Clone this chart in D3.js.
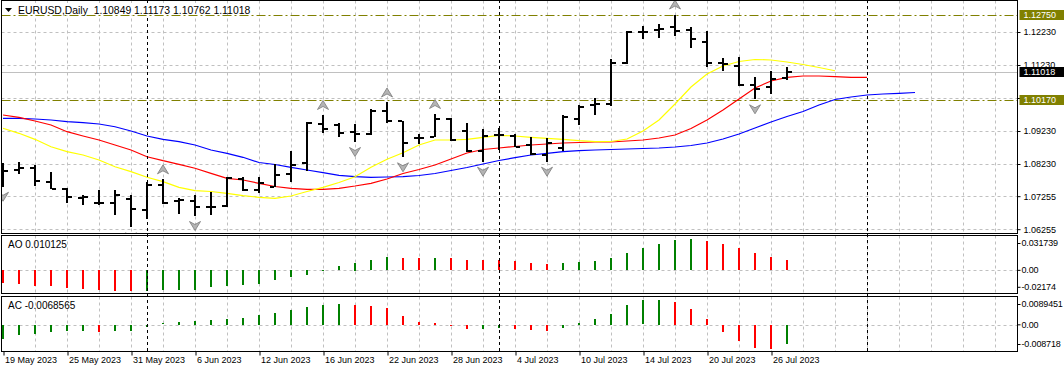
<!DOCTYPE html>
<html><head><meta charset="utf-8">
<script src="https://cdn.jsdelivr.net/npm/d3@7"></script>
<style>
html,body{margin:0;padding:0;background:#fff;}
svg{display:block;}
text{font-family:"Liberation Sans",Arial,sans-serif;}
</style></head><body>
<svg id="c" width="1064" height="372"></svg>
<script>
// ---------------- DATA ----------------
const symbol = "EURUSD,Daily";
const dates = ["2023-05-19","2023-05-22","2023-05-23","2023-05-24","2023-05-25","2023-05-26","2023-05-29","2023-05-30","2023-05-31","2023-06-01","2023-06-02","2023-06-05","2023-06-06","2023-06-07","2023-06-08","2023-06-09","2023-06-12","2023-06-13","2023-06-14","2023-06-15","2023-06-16","2023-06-19","2023-06-20","2023-06-21","2023-06-22","2023-06-23","2023-06-26","2023-06-27","2023-06-28","2023-06-29","2023-06-30","2023-07-03","2023-07-04","2023-07-05","2023-07-06","2023-07-07","2023-07-10","2023-07-11","2023-07-12","2023-07-13","2023-07-14","2023-07-17","2023-07-18","2023-07-19","2023-07-20","2023-07-21","2023-07-24","2023-07-25","2023-07-26","2023-07-27"];
const open  = [1.08109,1.08048,1.08100,1.07685,1.07482,1.07209,1.07039,1.07057,1.07179,1.06836,1.07585,1.07118,1.07100,1.06918,1.06957,1.07766,1.07442,1.07542,1.07927,1.08251,1.09442,1.09412,1.09185,1.09154,1.09836,1.09524,1.09003,1.09057,1.09594,1.09230,1.08633,1.09094,1.09079,1.08791,1.08503,1.08715,1.09600,1.10003,1.10048,1.11282,1.12230,1.12300,1.12391,1.12291,1.11936,1.11300,1.11200,1.10624,1.10554,1.10849];
const high  = [1.08269,1.08291,1.08191,1.07988,1.07503,1.07300,1.07442,1.07442,1.07300,1.07685,1.07766,1.07200,1.07282,1.07382,1.07827,1.07827,1.07845,1.08230,1.08633,1.09503,1.09715,1.09463,1.09442,1.09888,1.10094,1.09542,1.09139,1.09745,1.09615,1.09472,1.09282,1.09312,1.09139,1.09057,1.09009,1.09715,1.10003,1.10221,1.11403,1.12269,1.12427,1.12472,1.12760,1.12391,1.12275,1.11433,1.11463,1.10857,1.11057,1.11173];
const low   = [1.07540,1.07927,1.07563,1.07463,1.07039,1.06979,1.06997,1.06676,1.06312,1.06572,1.07018,1.06715,1.06654,1.06680,1.06936,1.07421,1.07342,1.07524,1.07685,1.08009,1.09160,1.09039,1.08897,1.09109,1.09463,1.08433,1.08836,1.09039,1.08936,1.08603,1.08300,1.08654,1.08745,1.08488,1.08300,1.08633,1.09397,1.09730,1.09988,1.11260,1.12018,1.12039,1.12109,1.11736,1.11160,1.11057,1.10594,1.10191,1.10351,1.10762];
const close = [1.08027,1.08094,1.07715,1.07472,1.07239,1.07215,1.07045,1.07291,1.06876,1.07585,1.07039,1.07125,1.06918,1.06936,1.07806,1.07442,1.07663,1.07888,1.08191,1.09482,1.09291,1.09160,1.09154,1.09836,1.09542,1.08857,1.09018,1.09585,1.08957,1.08615,1.09079,1.09100,1.08754,1.08518,1.08876,1.09645,1.09966,1.10048,1.11300,1.12239,1.12239,1.12321,1.12269,1.12009,1.11300,1.11260,1.10624,1.10494,1.10797,1.11018];

// Alligator (values per bar slot, shifted lines run past the last bar)
const jaw   = [1.09615,1.09615,1.09594,1.09563,1.09512,1.09482,1.09442,1.09360,1.09230,1.09079,1.08978,1.08906,1.08806,1.08654,1.08554,1.08433,1.08276,1.08215,1.08130,1.08048,1.07966,1.07888,1.07845,1.07827,1.07836,1.07845,1.07882,1.07942,1.08033,1.08124,1.08230,1.08336,1.08421,1.08503,1.08554,1.08603,1.08633,1.08654,1.08669,1.08685,1.08700,1.08715,1.08745,1.08791,1.08866,1.08988,1.09139,1.09321,1.09503,1.09669,1.09821,1.10018,1.10185,1.10260,1.10321,1.10351,1.10372,1.10397];
const teeth = [1.09715,1.09645,1.09533,1.09412,1.09209,1.09079,1.08957,1.08806,1.08654,1.08451,1.08330,1.08221,1.08100,1.07948,1.07797,1.07745,1.07645,1.07548,1.07494,1.07463,1.07463,1.07494,1.07563,1.07645,1.07776,1.07942,1.08063,1.08200,1.08382,1.08563,1.08669,1.08715,1.08760,1.08806,1.08836,1.08866,1.08882,1.08897,1.08897,1.08927,1.08957,1.09018,1.09109,1.09306,1.09563,1.09866,1.10200,1.10533,1.10745,1.10857,1.10897,1.10897,1.10876,1.10857,1.10857];
const lips  = [1.09312,1.09160,1.08978,1.08754,1.08603,1.08503,1.08351,1.08148,1.07997,1.07827,1.07694,1.07524,1.07421,1.07397,1.07342,1.07269,1.07221,1.07191,1.07260,1.07397,1.07524,1.07669,1.07845,1.08130,1.08372,1.08572,1.08806,1.08957,1.08957,1.08978,1.09039,1.09100,1.09079,1.09039,1.09009,1.08978,1.08936,1.08906,1.08912,1.08988,1.09230,1.09563,1.10048,1.10563,1.10957,1.11200,1.11336,1.11397,1.11382,1.11321,1.11245,1.11154,1.11057];

const fractalUp   = [10,20,24,27,42];
const fractalDown = [0,8,12,22,25,30,34,47];

const ao = [-0.01316,-0.01387,-0.01589,-0.01660,-0.01791,-0.01893,-0.01994,-0.02095,-0.02174,-0.02126,-0.01994,-0.01990,-0.01980,-0.01761,-0.01589,-0.01518,-0.01387,-0.01053,-0.00749,-0.00476,0.00010,0.00435,0.00769,0.01043,0.01346,0.01245,0.01240,0.01250,0.01245,0.01043,0.01040,0.01035,0.00941,0.00739,0.00638,0.00739,0.00840,0.00941,0.01245,0.01751,0.02257,0.02662,0.03067,0.031739,0.02966,0.02662,0.02257,0.01751,0.01346,0.010125];
const aoPrev = -0.0125;
const ac = [-0.00487,-0.00357,-0.00332,-0.00249,-0.00213,-0.00210,-0.00260,-0.00213,-0.00205,-0.00068,0.00054,0.00101,0.00148,0.00184,0.00220,0.00245,0.00353,0.00425,0.00534,0.00642,0.00714,0.00750,0.00714,0.00678,0.00606,0.00317,0.00112,0.00065,-0.00043,-0.00151,-0.00141,-0.00115,-0.00151,-0.00187,-0.00224,-0.00115,0.00065,0.00209,0.00389,0.00714,0.00883,0.0089451,0.00822,0.00570,0.00209,-0.00260,-0.00584,-0.00836,-0.008718,-0.0068565];
const acPrev = -0.0055;

const priceTicks = [1.12230,1.11230,1.10230,1.09230,1.08230,1.07255,1.06255];
const levelLines = [1.12750,1.10170];
const lastPrice = 1.11018;
const aoTicks = [0.031739,0,-0.02174];
const acTicks = [0.0089451,0,-0.008718];
const dateTickIdx = [0,4,8,12,16,20,24,28,32,36,40,44,48];
const separatorIdx = [9,31,54];

// ---------------- LAYOUT ----------------
const svg = d3.select("#c");
const L = 1.5, R = 1017.5;
const main = {top:0.5, bot:233.5};
const aoP = {top:235.5, bot:293.5};
const acP = {top:296.5, bot:351.5};

const x = d3.scaleLinear().domain([0,63]).range([3,1011]);
const y = d3.scaleLinear().domain([1.06139,1.13200]).range([233,0]);
const yAO = d3.scaleLinear().domain([-0.02174,0.031739]).range([291.8,239.0]);
const yAC = d3.scaleLinear().domain([-0.008718,0.0089451]).range([349,300]);

const GRID = "#c0c0c0";
const FONT = "Liberation Sans, Arial, sans-serif";
svg.append("rect").attr("width",1064).attr("height",372).attr("fill","#fff");

const defs = svg.append("defs");
defs.append("clipPath").attr("id","cm").append("rect").attr("x",L).attr("y",main.top).attr("width",R-L).attr("height",main.bot-main.top);

// vertical grid
const gridIdx = d3.range(2,64,2);
[[main.top,main.bot],[aoP.top,aoP.bot],[acP.top,acP.bot]].forEach(([t,b])=>{
  svg.append("g").selectAll("line").data(gridIdx).join("line")
    .attr("x1",d=>x(d)+0.5).attr("x2",d=>x(d)+0.5).attr("y1",t).attr("y2",b)
    .attr("stroke",GRID).attr("stroke-dasharray","3,3");
});
// horizontal grid main
svg.append("g").selectAll("line").data(priceTicks).join("line")
  .attr("x1",L).attr("x2",R).attr("y1",d=>Math.round(y(d))+0.5).attr("y2",d=>Math.round(y(d))+0.5)
  .attr("stroke",GRID).attr("stroke-dasharray","3,3");
// zero lines
svg.append("line").attr("x1",L).attr("x2",R).attr("y1",Math.round(yAO(0))+0.5).attr("y2",Math.round(yAO(0))+0.5).attr("stroke",GRID).attr("stroke-dasharray","3,3");
svg.append("line").attr("x1",L).attr("x2",R).attr("y1",Math.round(yAC(0))+0.5).attr("y2",Math.round(yAC(0))+0.5).attr("stroke",GRID).attr("stroke-dasharray","3,3");

const gm = svg.append("g").attr("clip-path","url(#cm)");
// current price line
gm.append("line").attr("x1",L).attr("x2",R).attr("y1",Math.round(y(lastPrice))+0.5).attr("y2",Math.round(y(lastPrice))+0.5).attr("stroke","#c0c0c0");
// level lines
gm.selectAll("line.lvl").data(levelLines).join("line").attr("class","lvl")
  .attr("x1",L).attr("x2",R).attr("y1",d=>Math.round(y(d))+0.5).attr("y2",d=>Math.round(y(d))+0.5)
  .attr("stroke","#808000").attr("stroke-dasharray","9,3,2,3");

// alligator
const lineGen = d3.line().x((d,i)=>x(i)).y(d=>y(d));
[[jaw,"#0000ff"],[teeth,"#ff0000"],[lips,"#ffff00"]].forEach(([arr,c])=>{
  gm.append("path").attr("d",lineGen(arr)).attr("fill","none").attr("stroke",c).attr("stroke-width",1.2);
});

// OHLC bars
const idx = d3.range(open.length);
const gb = gm.append("g").attr("fill","#000");
gb.selectAll("rect.v").data(idx).join("rect").attr("class","v")
  .attr("x",i=>x(i)-1).attr("width",2)
  .attr("y",i=>Math.round(y(high[i]))).attr("height",i=>Math.max(2,Math.round(y(low[i]))-Math.round(y(high[i]))));
gb.selectAll("rect.o").data(idx).join("rect").attr("class","o")
  .attr("x",i=>x(i)-5).attr("width",4).attr("y",i=>Math.round(y(open[i]))-1).attr("height",2);
gb.selectAll("rect.c").data(idx).join("rect").attr("class","c")
  .attr("x",i=>x(i)+1).attr("width",4).attr("y",i=>Math.round(y(close[i]))-1).attr("height",2);

// fractals
const arrow = "M0,-4.5 L5.5,4.5 L0,1.5 L-5.5,4.5 Z";
gm.selectAll("path.fu").data(fractalUp).join("path").attr("class","fu")
  .attr("d",arrow).attr("transform",i=>`translate(${x(i)},${y(high[i])-10})`)
  .attr("fill","#b4b4b4").attr("stroke","#7a7a7a").attr("stroke-width",0.8);
gm.selectAll("path.fd").data(fractalDown).join("path").attr("class","fd")
  .attr("d",arrow).attr("transform",i=>`translate(${x(i)},${y(low[i])+10}) rotate(180)`)
  .attr("fill","#b4b4b4").attr("stroke","#7a7a7a").attr("stroke-width",0.8);

// AO histogram
const aoCol = ao.map((v,i)=> v > (i? ao[i-1] : aoPrev) ? "#008000" : "#ff0000");
svg.append("g").selectAll("rect").data(idx).join("rect")
  .attr("x",i=>x(i)-1).attr("width",2)
  .attr("y",i=>Math.round(Math.min(yAO(ao[i]),yAO(0))))
  .attr("height",i=>Math.max(1,Math.round(Math.abs(yAO(ao[i])-yAO(0)))))
  .attr("fill",i=>aoCol[i]);
const acCol = ac.map((v,i)=> v > (i? ac[i-1] : acPrev) ? "#008000" : "#ff0000");
svg.append("g").selectAll("rect").data(idx).join("rect")
  .attr("x",i=>x(i)-1).attr("width",2)
  .attr("y",i=>Math.round(Math.min(yAC(ac[i]),yAC(0))))
  .attr("height",i=>Math.max(1,Math.round(Math.abs(yAC(ac[i])-yAC(0)))))
  .attr("fill",i=>acCol[i]);

// period separators
svg.append("g").selectAll("line").data(separatorIdx).join("line")
  .attr("x1",i=>x(i)+0.5).attr("x2",i=>x(i)+0.5).attr("y1",0).attr("y2",acP.bot)
  .attr("stroke","#000").attr("stroke-dasharray","3,3");

// frames
[main,aoP,acP].forEach(p=>{
  svg.append("rect").attr("x",L).attr("y",p.top).attr("width",R-L).attr("height",p.bot-p.top)
    .attr("fill","none").attr("stroke","#000");
});

// right price axis
const fmt5 = d3.format(".5f");
const ax = svg.append("g").attr("transform",`translate(${R},0)`)
  .call(d3.axisRight(y).tickValues(priceTicks).tickFormat(fmt5).tickSize(3).tickPadding(3));
ax.select(".domain").remove();
ax.selectAll("text").attr("font-size",9).attr("fill","#000").attr("font-family",FONT);
ax.selectAll("line").attr("stroke","#000");

function tagBox(v, bg){
  const yy = y(v);
  svg.append("rect").attr("x",R+2).attr("y",Math.round(yy)-5).attr("width",1064-R-2).attr("height",10).attr("fill",bg);
  svg.append("text").attr("x",R+6).attr("y",yy).attr("dy","0.34em").attr("font-size",9).attr("fill","#fff").text(fmt5(v));
}
levelLines.forEach(v=>tagBox(v,"#808000"));
tagBox(lastPrice,"#000");

// indicator axes
function indAxis(scale, ticks, fmt){
  const g = svg.append("g").attr("transform",`translate(${R},0)`)
    .call(d3.axisRight(scale).tickValues(ticks).tickFormat(fmt).tickSize(3).tickPadding(1));
  g.select(".domain").remove();
  g.selectAll(".tick").attr("transform",(d,i)=>{
    let yy = scale(d);
    if(i===0) yy += 4.5; else if(i===ticks.length-1) yy -= 4.5;
    return `translate(0,${yy})`;
  });
  g.selectAll("text").attr("font-size",9).attr("fill","#000").attr("font-family",FONT).attr("letter-spacing",-0.15);
  g.selectAll("line").attr("stroke","#000");
}
indAxis(yAO, aoTicks, d=> d===0 ? "0.00" : String(d));
indAxis(yAC, acTicks, d=> d===0 ? "0.00" : String(d));

// bottom date axis
const parse = d3.timeParse("%Y-%m-%d");
const dfmt = d3.timeFormat("%-d %b %Y");
const bx = svg.append("g").attr("transform",`translate(0.5,${acP.bot})`)
  .call(d3.axisBottom(x).tickValues(dateTickIdx).tickFormat(i=>dfmt(parse(dates[i]))).tickSize(4));
bx.select(".domain").remove();
bx.selectAll("line").attr("stroke","#000");
bx.selectAll("text").attr("font-size",9).attr("fill","#000").attr("text-anchor","start")
  .attr("x",1).attr("y",5).attr("dy","0.71em").attr("font-family",FONT);

// header
const n = open.length-1;
svg.append("rect").attr("x",3).attr("y",3).attr("width",220).attr("height",12).attr("fill","#fff");
svg.append("path").attr("d","M5,8 L12,8 L8.5,12 Z").attr("fill","#000");
svg.append("text").attr("x",18).attr("y",14).attr("font-size",10.4).attr("fill","#000")
  .style("white-space","pre")
  .text(`${symbol}  ${fmt5(open[n])} ${fmt5(high[n])} ${fmt5(low[n])} ${fmt5(close[n])}`);
svg.append("text").attr("x",8).attr("y",248).attr("font-size",10).attr("fill","#000").text(`AO ${ao[n]}`);
svg.append("text").attr("x",8).attr("y",309).attr("font-size",10).attr("fill","#000").text(`AC ${ac[n]}`);
</script>
</body></html>
